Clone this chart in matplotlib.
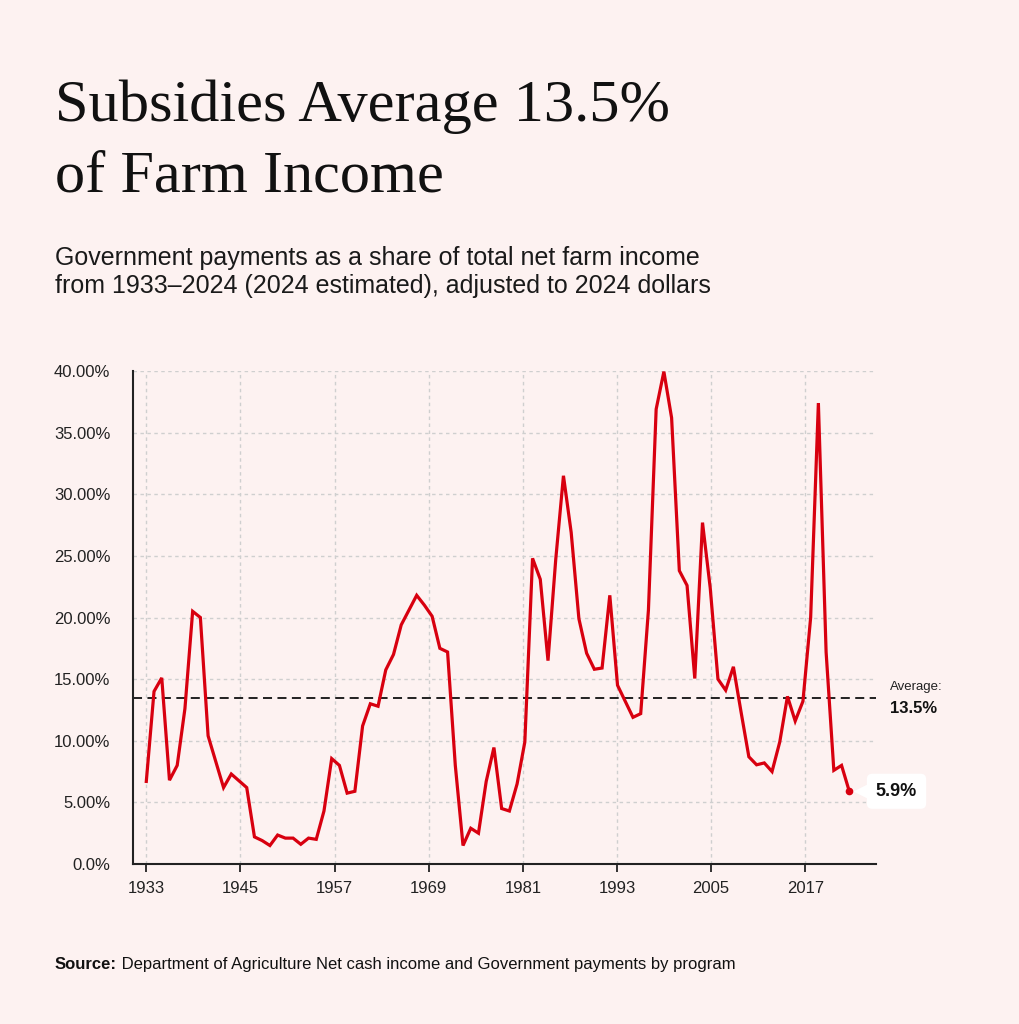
import numpy as np
import matplotlib
matplotlib.use("Agg")
import matplotlib.pyplot as plt
from matplotlib.transforms import offset_copy

# share of net farm income from government payments, 1933-2024 (%)
years = np.arange(1933, 2025)
share = [
    6.7, 14.0, 15.1, 6.8, 8.0, 12.6, 20.5, 20.0, 10.4, 8.3,      # 1933-1942
    6.2, 7.3, 6.75, 6.2, 2.2, 1.9, 1.5, 2.35, 2.1, 2.1,          # 1943-1952
    1.6, 2.1, 2.0, 4.3, 8.55, 8.0, 5.75, 5.9, 11.2, 13.0,        # 1953-1962
    12.8, 15.75, 17.0, 19.4, 20.6, 21.8, 21.0, 20.1, 17.5, 17.2, # 1963-1972
    8.0, 1.5, 2.9, 2.5, 6.7, 9.45, 4.5, 4.3, 6.5, 9.9,           # 1973-1982
    24.8, 23.1, 16.5, 24.7, 31.5, 26.9, 19.9, 17.1, 15.8, 15.9,  # 1983-1992
    21.8, 14.5, 13.2, 11.9, 12.2, 20.6, 36.9, 39.95, 36.2, 23.8, # 1993-2002
    22.6, 15.05, 27.7, 22.4, 15.0, 14.1, 16.0, 12.3, 8.7, 8.05,  # 2003-2012
    8.2, 7.5, 9.9, 13.6, 11.6, 13.2, 20.0, 37.4, 17.2, 7.6,      # 2013-2022
    8.0, 5.9,                                                    # 2023-2024
]
average = 13.5
last_label = "5.9%"

tick_years = [1933, 1945, 1957, 1969, 1981, 1993, 2005, 2017]
y_ticks = [0, 5, 10, 15, 20, 25, 30, 35, 40]
y_labels = ["0.0%", "5.00%", "10.00%", "15.00%", "20.00%",
            "25.00%", "30.00%", "35.00%", "40.00%"]

BG = "#fdf2f1"
RED = "#d8000f"
W, H = 1019, 1024

fig = plt.figure(figsize=(W / 100, H / 100), dpi=100, facecolor=BG)

def px(x, y):
    return x / W, 1 - y / H

# titles
fig.text(*px(55, 121), "Subsidies Average 13.5%", family="Liberation Serif",
         fontsize=43.5, color="#111111", va="baseline")
fig.text(*px(55, 191), "of Farm Income", family="Liberation Serif",
         fontsize=43.5, color="#111111", va="baseline")
fig.text(*px(55, 265), "Government payments as a share of total net farm income",
         family="Liberation Sans", fontsize=18, color="#1a1a1a", va="baseline")
fig.text(*px(55, 293), "from 1933\u20132024 (2024 estimated), adjusted to 2024 dollars",
         family="Liberation Sans", fontsize=18, color="#1a1a1a", va="baseline")

# source line: bold lead-in, regular rest placed right after it
src = fig.text(*px(55, 969), "Source:", family="Liberation Sans", fontsize=12,
               fontweight="bold", color="#111111", va="baseline")
renderer = fig.canvas.get_renderer()
src_w = src.get_window_extent(renderer).width
fig.text((55 + src_w) / W, 1 - 969 / H,
         " Department of Agriculture Net cash income and Government payments by program",
         family="Liberation Sans", fontsize=12, color="#111111", va="baseline")

# chart
ax = fig.add_axes([132.7 / W, 160 / H, (875.7 - 132.7) / W, 493 / H])
ax.set_facecolor(BG)
ax.plot(years, share, color=RED, lw=2.3, solid_joinstyle="miter", clip_on=False, zorder=3)
ax.plot(years[-1], share[-1], "o", color=RED, ms=4.5, clip_on=False, zorder=4)

ax.axhline(average, color="#111111", lw=1.3, dashes=(5, 3), zorder=2)

ax.set_xlim(1931.24, 2027.42)
ax.set_ylim(0, 40)

# tick axis in the source runs slightly wider than the data spacing
stretch = 7.845 / 7.725
ax.set_xticks(1933 + (np.array(tick_years) - 1933) * stretch)
ax.set_xticklabels([str(t) for t in tick_years])
ax.set_yticks(y_ticks)
ax.set_yticklabels(y_labels)

ax.grid(True, color="#cfcfcf", lw=1, linestyle=(0, (2.5, 2.5)), zorder=0)
for s in ["top", "right"]:
    ax.spines[s].set_visible(False)
for s in ["left", "bottom"]:
    ax.spines[s].set_color("#222222")
    ax.spines[s].set_linewidth(1.5)

ax.tick_params(axis="x", length=6, width=1.3, color="#222222", pad=6,
               labelsize=12, labelcolor="#222222")
ax.tick_params(axis="y", length=0, pad=16, labelsize=12, labelcolor="#222222")
for lab in ax.get_xticklabels() + ax.get_yticklabels():
    lab.set_family("Liberation Sans")

# average note
ax.annotate("Average:", xy=(1, average), xycoords=("axes fraction", "data"),
            xytext=(10, 8), textcoords="offset points", fontsize=9.5,
            family="Liberation Sans", color="#222222", va="center", ha="left",
            annotation_clip=False)
ax.annotate("13.5%", xy=(1, average), xycoords=("axes fraction", "data"),
            xytext=(10, -8), textcoords="offset points", fontsize=12,
            fontweight="bold", family="Liberation Sans", color="#111111",
            va="center", ha="left", annotation_clip=False)

# last value callout
ax.plot(years[-1], share[-1], marker="<", ms=11, color="white", mec="none",
        clip_on=False, zorder=4,
        transform=offset_copy(ax.transData, fig=fig, x=12, y=0, units="dots"))
ax.annotate(last_label, xy=(years[-1], share[-1]), xytext=(34, 0),
            textcoords="offset points", fontsize=13, fontweight="bold",
            family="Liberation Sans", color="#111111", va="center", ha="center",
            bbox=dict(boxstyle="round,pad=0.5,rounding_size=0.3", fc="white", ec="none"),
            annotation_clip=False, zorder=5)

fig.savefig("out.png", dpi=100, facecolor=BG)
